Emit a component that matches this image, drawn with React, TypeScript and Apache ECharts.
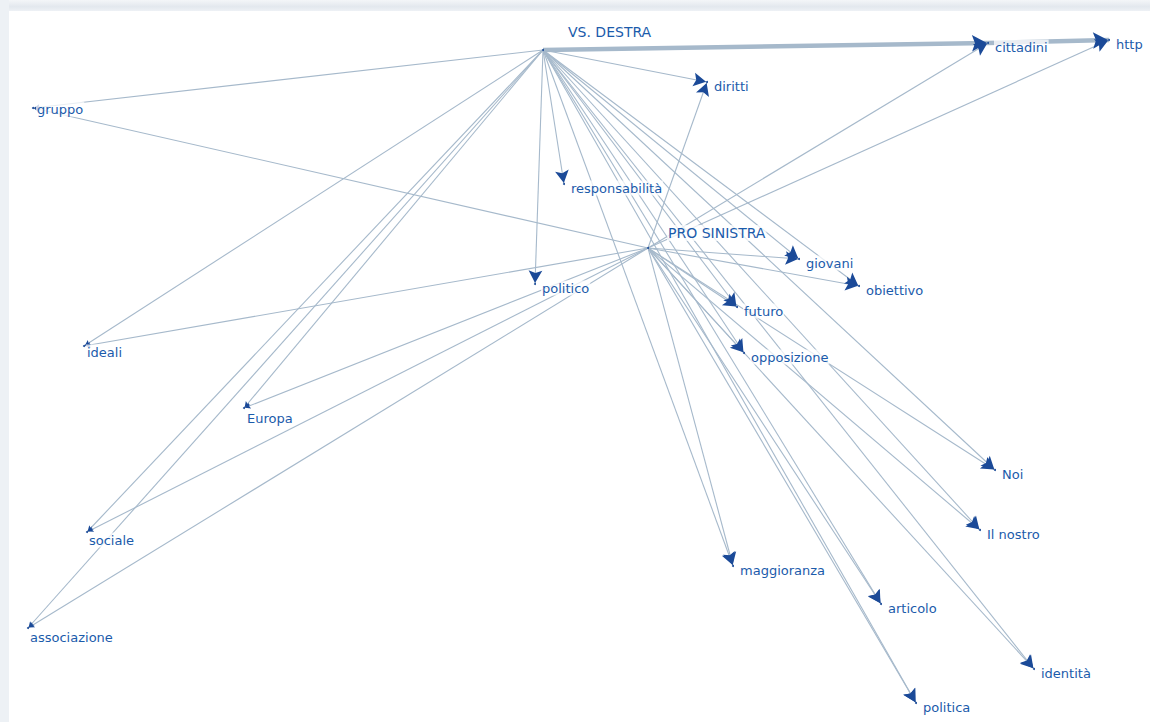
import React, { useEffect, useRef } from "react";
import * as echarts from "echarts";

// ---- data ----
const nodeNames = [
  "VS. DESTRA", "PRO SINISTRA", "cittadini", "http", "diritti", "gruppo",
  "responsabilità", "giovani", "obiettivo", "politico", "futuro", "opposizione",
  "ideali", "Europa", "Noi", "Il nostro", "sociale", "maggioranza", "articolo",
  "associazione", "identità", "politica",
];
const nodeX = [543, 648, 988, 1109, 707, 33, 564, 799, 859, 535, 737, 744, 84, 244, 995, 980, 87, 733, 881, 28, 1034, 916];
const nodeY = [50, 248, 43, 40, 82, 108, 184, 259, 286, 284, 307, 353, 346, 408, 470, 530, 532, 566, 604, 628, 669, 703];

const linkSources = [
  "VS. DESTRA", "VS. DESTRA", "VS. DESTRA", "VS. DESTRA", "VS. DESTRA", "VS. DESTRA",
  "VS. DESTRA", "VS. DESTRA", "VS. DESTRA", "VS. DESTRA", "VS. DESTRA", "VS. DESTRA",
  "VS. DESTRA", "VS. DESTRA", "VS. DESTRA", "VS. DESTRA", "VS. DESTRA", "VS. DESTRA", "VS. DESTRA",
  "cittadini",
  "PRO SINISTRA", "PRO SINISTRA", "PRO SINISTRA", "PRO SINISTRA", "PRO SINISTRA", "PRO SINISTRA",
  "PRO SINISTRA", "PRO SINISTRA", "PRO SINISTRA", "PRO SINISTRA", "PRO SINISTRA", "PRO SINISTRA",
  "PRO SINISTRA", "PRO SINISTRA", "PRO SINISTRA", "PRO SINISTRA", "PRO SINISTRA", "PRO SINISTRA",
];
const linkTargets = [
  "cittadini", "diritti", "gruppo", "responsabilità", "politico", "ideali",
  "Europa", "sociale", "associazione", "giovani", "obiettivo", "futuro",
  "opposizione", "Noi", "Il nostro", "maggioranza", "articolo", "identità", "politica",
  "http",
  "cittadini", "http", "diritti", "gruppo", "ideali", "Europa",
  "sociale", "associazione", "giovani", "obiettivo", "futuro", "opposizione",
  "Noi", "Il nostro", "maggioranza", "articolo", "identità", "politica",
];
const linkWeights = [
  4, 1, 1, 1, 1, 1, 1, 1, 1, 1, 1, 1, 1, 1, 1, 1, 1, 1, 1,
  4,
  1, 1, 1, 1, 1, 1, 1, 1, 1, 1, 1, 1, 1, 1, 1, 1, 1, 1,
];

// ---- styles ----
const LINE_COLOR = "#a6b9cb";
const ARROW_COLOR = "#1b4a98";
const LABEL_COLOR = "#1b5bab";
// arrow whose tip sits at the symbol centre (padded bounding box)
const ARROW_PATH = "path://M0,0 M20,0 M0,20 M10,10 L15.5,20 L10,18 L4.5,20 Z";
const smallTargets = ["gruppo", "ideali", "Europa", "sociale", "associazione"];
const labelShift: Record<string, [number, number]> = {
  "VS. DESTRA": [18, -18],
  "PRO SINISTRA": [13, -15],
  gruppo: [-3, 1],
  ideali: [-4, 6],
  Europa: [-4, 10],
  sociale: [-5, 8],
  associazione: [-5, 9],
};

export default function App() {
  const ref = useRef<HTMLDivElement>(null);
  useEffect(() => {
    if (!ref.current) return;
    const chart = echarts.init(ref.current, null, { renderer: "svg" });

    const nodes = nodeNames.map((n, i) => {
      const hub = n === "VS. DESTRA" || n === "PRO SINISTRA";
      const sh = labelShift[n] || [0, 4];
      return {
        name: n,
        value: [nodeX[i], nodeY[i]],
        label: {
          show: true,
          position: "right",
          distance: 5,
          offset: sh,
          fontSize: hub ? 14 : 13,
        },
      };
    });
    const baseLinks = linkSources.map((s, i) => ({
      source: s,
      target: linkTargets[i],
      lineStyle: { width: linkWeights[i] > 1 ? 4.5 : 1.1 },
    }));
    const arrowLinks = linkSources.map((s, i) => ({
      source: s,
      target: linkTargets[i],
      symbolSize: smallTargets.includes(linkTargets[i]) ? 11 : linkWeights[i] > 1 ? 30 : 25,
    }));

    chart.setOption({
      animation: false,
      backgroundColor: "#ffffff",
      grid: { left: 0, right: 0, top: 0, bottom: 0 },
      xAxis: { type: "value", min: 0, max: 1150, show: false },
      yAxis: { type: "value", min: 0, max: 722, inverse: true, show: false },
      graphic: [
        {
          type: "rect",
          shape: { x: 0, y: 0, width: 1150, height: 11 },
          style: {
            fill: new echarts.graphic.LinearGradient(0, 0, 0, 1, [
              { offset: 0, color: "#f4f6f8" },
              { offset: 0.6, color: "#e3e8ee" },
              { offset: 1, color: "#eef1f5" },
            ]),
          },
          z: -1,
        },
        {
          type: "rect",
          shape: { x: 0, y: 0, width: 9, height: 722 },
          style: { fill: "#edf1f5" },
          z: -1,
        },
      ],
      series: [
        {
          type: "graph",
          coordinateSystem: "cartesian2d",
          layout: "none",
          symbol: "circle",
          symbolSize: 1,
          itemStyle: { color: "rgba(0,0,0,0)" },
          label: { show: false },
          edgeSymbol: ["none", "none"],
          lineStyle: { color: LINE_COLOR, opacity: 1, width: 1, curveness: 0 },
          data: nodeNames.map((n, i) => ({ name: n, value: [nodeX[i], nodeY[i]] })),
          links: baseLinks,
          silent: true,
          z: 1,
        },
        {
          type: "graph",
          coordinateSystem: "cartesian2d",
          layout: "none",
          symbol: "circle",
          symbolSize: 2,
          itemStyle: { color: ARROW_COLOR },
          edgeSymbol: ["none", ARROW_PATH],
          edgeSymbolSize: 25,
          lineStyle: { color: ARROW_COLOR, opacity: 1, width: 0, curveness: 0 },
          label: {
            show: true,
            color: LABEL_COLOR,
            fontFamily: "DejaVu Sans",
            fontSize: 13,
            backgroundColor: "rgba(255,255,255,0.75)",
            padding: [1, 1],
          },
          data: nodes,
          links: arrowLinks,
          silent: true,
          z: 2,
        },
      ],
    });
    return () => chart.dispose();
  }, []);
  return (
    <div
      ref={ref}
      style={{ position: "absolute", left: 0, top: 0, width: 1150, height: 722 }}
    />
  );
}
